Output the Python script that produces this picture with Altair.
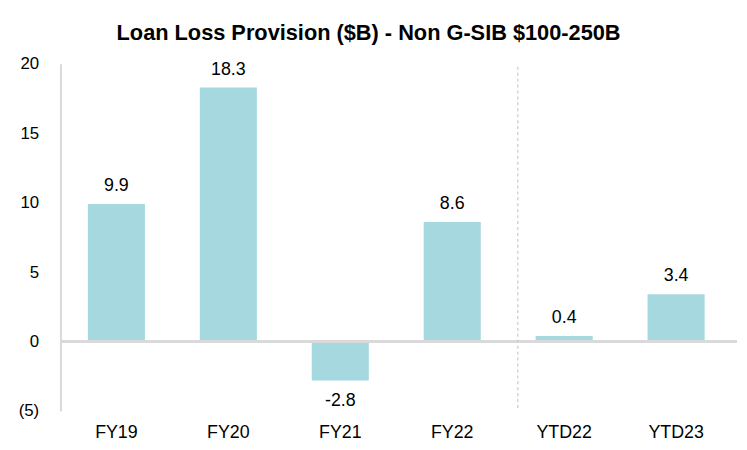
import altair as alt
import pandas as pd

categories = ["FY19", "FY20", "FY21", "FY22", "YTD22", "YTD23"]
values = [9.9, 18.3, -2.8, 8.6, 0.4, 3.4]
labels = ["9.9", "18.3", "-2.8", "8.6", "0.4", "3.4"]
y_ticks = [-5, 0, 5, 10, 15, 20]

df = pd.DataFrame({"cat": categories, "val": values, "lab": labels})

FONT = "Liberation Sans"
BAR = "#a6d8e0"
GRAY = "#d9d9d9"

x = alt.X("cat:N", sort=categories, title=None,
          scale=alt.Scale(paddingInner=0.49, paddingOuter=0.245),
          axis=alt.Axis(labelAngle=0, domain=False, ticks=False, labelPadding=13,
                        labelFontSize=18, labelFont=FONT, labelColor="#000000"))
y = alt.Y("val:Q", title=None,
          scale=alt.Scale(domain=[-5, 20], nice=False),
          axis=alt.Axis(values=y_ticks, grid=False, ticks=False, domainColor=GRAY,
                        domainWidth=2, labelPadding=22, labelFontSize=17, labelFont=FONT,
                        labelColor="#000000",
                        labelExpr="datum.value < 0 ? '(' + abs(datum.value) + ')' : datum.label"))

base = alt.Chart(df)

bars = base.mark_bar(color=BAR).encode(x=x, y=y)

zero = base.mark_rule(color=GRAY, strokeWidth=2).encode(
    y=alt.datum(0), x=alt.value(0), x2=alt.value(684))

divider = alt.Chart(pd.DataFrame({"cat": ["YTD22"]})).mark_rule(
    color="#c8c8c8", strokeDash=[3, 3], strokeWidth=1.2, xOffset=-18
).encode(x=alt.X("cat:N", sort=categories, bandPosition=0), y=alt.value(3), y2=alt.value(348))

text_pos = base.transform_filter("datum.val >= 0").mark_text(
    baseline="bottom", dy=-9, fontSize=18, font=FONT, color="#000000"
).encode(x=x, y=y, text="lab:N")
text_neg = base.transform_filter("datum.val < 0").mark_text(
    baseline="top", dy=12, fontSize=18, font=FONT, color="#000000"
).encode(x=x, y=y, text="lab:N")

chart = alt.layer(bars, zero, divider, text_pos, text_neg).properties(
    width=679, height=351,
    title=alt.TitleParams("Loan Loss Provision ($B) - Non G-SIB $100-250B",
                          fontSize=22, font=FONT, fontWeight="bold", color="#000000",
                          anchor="middle", dx=-28, offset=10),
    padding={"left": 53, "top": 54, "right": 7, "bottom": 34},
    autosize=alt.AutoSizeParams(type="none"),
).configure_view(stroke=None)

chart.save("out.html", embed_options={"renderer": "svg", "actions": False})
